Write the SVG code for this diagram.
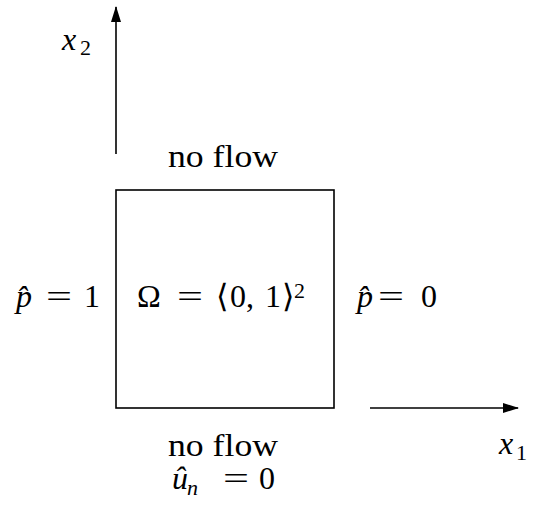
<svg xmlns="http://www.w3.org/2000/svg" width="534" height="505" viewBox="0 0 534 505">
<style>
  text { font-family: "Liberation Serif", serif; font-size: 32px; fill: #000; }
  .it { font-style: italic; }
  .sub { font-size: 22px; font-style: normal; }
  .subit { font-size: 22px; font-style: italic; }
  .ax { stroke: #000; stroke-width: 1.6; fill: none; }
  .box { stroke: #000; stroke-width: 1.6; fill: #fff; }
</style>
<defs>
  <marker id="ah" viewBox="0 0 16 10" refX="15" refY="5" markerWidth="16" markerHeight="10" markerUnits="userSpaceOnUse" orient="auto">
    <path d="M0,0 L16,5 L0,10 Z" fill="#000"/>
  </marker>
</defs>
<g id="connectors">
  <line class="ax" x1="116" y1="154" x2="116" y2="7" marker-end="url(#ah)"/>
  <line class="ax" x1="370" y1="408" x2="518" y2="408" marker-end="url(#ah)"/>
</g>
<g id="domain">
  <rect class="box" x="116" y="190" width="218" height="218"/>
  <text y="307"><tspan x="137">Ω</tspan></text>
  <text x="177" y="307" textLength="26" lengthAdjust="spacingAndGlyphs">=</text>
  <text y="307"><tspan x="216">⟨</tspan><tspan x="230">0,</tspan><tspan x="265">1</tspan><tspan x="282">⟩</tspan><tspan class="sub" x="294" dy="-9">2</tspan></text>
</g>
<g id="label-x2">
  <text y="50"><tspan class="it" x="62">x</tspan><tspan class="sub" x="80" dy="5">2</tspan></text>
</g>
<g id="label-x1">
  <text y="454"><tspan class="it" x="499">x</tspan><tspan class="sub" x="516" dy="6">1</tspan></text>
</g>
<g id="label-top">
  <text x="168" y="167" textLength="110" lengthAdjust="spacingAndGlyphs">no flow</text>
</g>
<g id="label-left">
  <text class="it" x="16" y="307">p̂</text>
  <text x="46" y="307" textLength="26" lengthAdjust="spacingAndGlyphs">=</text>
  <text x="84" y="307">1</text>
</g>
<g id="label-right">
  <text class="it" x="357" y="307">p̂</text>
  <text x="378" y="307" textLength="26" lengthAdjust="spacingAndGlyphs">=</text>
  <text x="421" y="307">0</text>
</g>
<g id="label-bottom">
  <text x="168" y="456" textLength="110" lengthAdjust="spacingAndGlyphs">no flow</text>
  <text y="489"><tspan class="it" x="172">û</tspan><tspan class="subit" x="187" dy="6">n</tspan></text>
  <text x="223" y="489" textLength="26" lengthAdjust="spacingAndGlyphs">=</text>
  <text x="259" y="489">0</text>
</g>
</svg>
